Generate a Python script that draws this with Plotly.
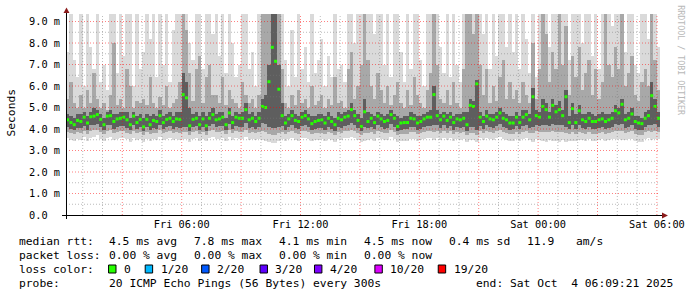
import pandas as pd
import plotly.graph_objects as go

# ---------------- data (10-minute resolution, milliseconds) ----------------
START = "2025-10-03 00:09:21"
END = "2025-10-04 06:09:21"
STEP_MIN = 10

median_a = [4.43,4.30,4.20,4.40,4.35,4.55,4.28,4.57,4.60,4.67,4.45,4.20,4.60,4.62,4.35,4.47,4.50,4.55,4.43,4.20,4.60,4.30,4.45,4.10,4.45,4.20,4.40,4.35,4.62,4.30,4.45,4.50,4.35,4.47,4.45,5.60,5.45,4.15,4.45,4.50,4.20,4.47,4.15,4.50,4.67]
median_b = [4.43,4.47,4.55,4.20,4.75,4.30,4.55,4.50,4.50,4.90,4.43,4.50,4.35,4.50,5.05,5.00,6.20,7.80,7.15,5.85,4.62,4.28,4.47,4.62,4.40,4.35,4.55,4.62,4.47,4.25,4.35,4.40,4.43,4.28,4.50,4.35,4.20,4.50,4.43,4.55,4.60,4.90,4.62,4.40,4.12]
median_c = [4.80,4.35,4.50,4.30,4.60,4.47,4.35,4.40,4.67,4.50,4.12,4.28,4.30,4.30,4.50,4.47,4.28,4.35,4.47,4.55,4.55,5.60,4.62,4.43,4.60,4.40,4.55,4.30,4.47,4.43,4.50,4.20,5.10,5.05,6.10,4.55,4.35,4.60,4.47,4.43,4.55,4.75,4.50,4.43,4.28]
median_d = [4.28,4.55,4.30,4.55,4.67,4.43,5.50,4.62,4.55,5.05,4.90,4.55,5.10,4.80,4.90,4.62,5.50,4.30,4.95,4.30,4.85,4.43,4.35,4.50,4.35,4.35,4.43,4.47,4.35,4.43,4.50,4.85,4.75,5.15,4.43,4.50,4.70,4.35,4.28,4.25,4.50,4.62,5.55,5.05,4.50]

# outer smoke (lightest) top
hi1_a = [7.6,9.4,7.2,6.4,9.4,6.0,9.4,7.8,6.8,9.4,6.2,7.0,5.8,9.4,9.4,6.6,9.4,7.4,9.4,9.4,6.0,9.4,6.8,7.6,9.4,8.2,9.4,6.4,9.4,7.0,9.4,6.2,8.6,9.4,9.4,9.4,9.4,8.0,7.2,9.4,9.4,6.8,9.4,9.4,8.4]
hi1_b = [9.4,7.4,9.4,6.6,9.4,8.0,6.4,7.0,9.4,9.4,6.8,7.6,6.0,9.4,9.4,9.4,9.4,9.4,9.4,9.4,9.4,7.2,6.0,8.6,6.4,9.4,6.8,7.8,6.2,9.4,6.6,7.2,8.2,6.0,7.4,6.4,9.4,6.8,7.0,6.2,9.4,9.4,8.0,9.4,9.4]
hi1_c = [9.4,9.4,9.4,8.4,9.4,9.4,7.0,9.4,6.4,9.4,9.4,7.6,6.2,9.4,6.8,9.4,9.4,7.2,6.0,9.4,9.4,9.4,9.4,7.8,6.6,9.4,6.4,9.4,7.0,6.2,9.4,9.4,9.4,9.4,9.4,9.4,8.4,9.4,6.8,9.4,7.4,9.4,9.4,7.8,9.4]
hi1_d = [7.6,9.4,6.8,9.4,8.2,6.6,9.4,6.4,9.4,9.4,9.4,7.8,9.4,9.4,9.4,9.4,9.4,7.2,9.4,9.4,9.4,8.0,9.4,9.4,7.4,9.4,6.8,9.4,9.4,9.4,8.8,9.4,9.4,9.4,7.6,9.4,9.4,7.0,6.6,9.4,9.4,8.2,9.4,9.4,7.8]

# middle smoke top
hi2_a = [5.4,6.2,5.2,5.0,5.6,5.0,5.8,5.2,6.6,5.4,5.0,5.2,4.9,5.6,8.0,5.1,5.4,5.0,6.8,6.0,5.0,5.3,5.2,5.4,5.1,6.4,5.2,5.0,5.5,5.1,6.0,5.0,5.2,5.4,6.2,9.4,8.6,6.6,5.3,6.8,7.4,5.2,6.4,7.0,5.6]
hi2_b = [5.6,5.2,6.4,5.1,5.8,5.4,5.2,5.0,6.2,5.6,5.2,5.4,5.0,5.6,9.4,9.4,9.4,9.4,9.4,9.4,6.8,5.2,5.0,5.6,5.1,5.8,5.2,5.4,5.0,6.0,5.1,5.3,5.6,5.0,5.4,5.1,6.4,5.2,5.3,5.0,6.8,7.6,5.4,6.0,7.0]
hi2_c = [9.4,7.2,6.0,5.4,6.6,5.8,5.2,6.0,5.1,5.6,6.2,5.2,5.0,5.8,5.1,6.4,5.6,5.2,5.0,5.8,6.6,9.4,7.0,5.4,5.2,5.8,5.1,6.2,5.2,5.0,6.8,9.4,9.4,8.4,9.4,7.0,5.6,6.8,5.2,6.0,5.3,6.4,7.2,5.4,6.2]
hi2_d = [5.4,5.8,5.2,6.2,5.6,5.2,8.0,5.4,6.8,9.4,8.4,6.2,7.6,6.8,9.4,7.0,8.8,5.6,7.4,6.4,7.8,5.8,6.6,7.2,5.6,6.8,5.4,6.2,9.4,7.0,6.4,7.8,6.8,9.4,6.0,6.6,7.4,5.6,5.3,6.2,6.8,6.0,9.4,7.2,5.8]

# dark core top
hi3_a = [4.7,4.6,4.5,4.7,4.7,4.8,4.6,4.8,5.0,4.9,4.7,4.5,4.8,4.9,4.7,4.7,4.8,4.8,4.8,4.5,4.8,4.6,4.7,4.5,4.7,4.6,4.7,4.6,4.9,4.6,4.7,4.8,4.6,4.8,4.8,6.6,6.2,5.0,4.7,4.8,4.6,4.8,4.6,4.8,5.0]
hi3_b = [4.7,4.8,4.8,4.5,5.0,4.6,4.8,4.7,4.8,5.2,4.7,4.8,4.6,4.8,5.4,5.6,7.0,9.4,9.4,7.0,5.2,4.6,4.7,4.9,4.7,4.6,4.8,4.9,4.7,4.6,4.6,4.7,4.7,4.6,4.8,4.6,4.5,4.8,4.7,4.8,4.9,5.2,4.9,4.7,4.5]
hi3_c = [5.4,4.8,4.7,4.6,4.8,4.7,4.6,4.7,4.9,4.7,4.6,4.5,4.6,4.6,4.8,4.7,4.6,4.6,4.7,4.8,4.9,6.0,4.9,4.7,4.8,4.7,4.8,4.6,4.7,4.7,4.8,4.8,5.4,5.3,6.3,4.8,4.6,4.9,4.7,4.7,4.8,5.0,4.8,4.7,4.6]
hi3_d = [4.6,4.8,4.6,4.9,4.9,4.7,5.9,4.9,4.8,5.4,5.2,4.8,5.4,5.1,5.3,4.9,5.8,4.6,5.2,4.7,5.1,4.7,4.7,4.8,4.7,4.6,4.7,4.8,4.7,4.7,4.8,5.1,5.0,5.4,4.7,4.8,5.0,4.6,4.6,4.5,4.8,4.9,6.2,5.4,4.8]

# bottoms of each smoke layer
lo1_a = [3.60,3.50,3.45,3.55,3.50,3.65,3.45,3.60,3.65,3.70,3.55,3.45,3.60,3.65,3.50,3.55,3.60,3.60,3.55,3.40,3.60,3.50,3.55,3.40,3.55,3.45,3.55,3.50,3.65,3.50,3.55,3.60,3.50,3.55,3.50,3.55,3.55,3.40,3.55,3.60,3.45,3.55,3.45,3.60,3.65]
lo1_b = [3.55,3.55,3.60,3.45,3.65,3.50,3.60,3.55,3.55,3.65,3.50,3.55,3.50,3.55,3.50,3.45,3.40,3.35,3.35,3.45,3.55,3.45,3.55,3.60,3.50,3.45,3.60,3.60,3.55,3.45,3.50,3.50,3.55,3.45,3.55,3.50,3.40,3.55,3.50,3.60,3.60,3.65,3.60,3.50,3.40]
lo1_c = [3.45,3.50,3.55,3.45,3.60,3.55,3.50,3.50,3.65,3.55,3.40,3.45,3.45,3.45,3.55,3.55,3.45,3.50,3.55,3.60,3.60,3.50,3.60,3.50,3.60,3.50,3.60,3.45,3.55,3.50,3.55,3.40,3.50,3.50,3.40,3.60,3.50,3.60,3.55,3.50,3.60,3.65,3.55,3.50,3.45]
lo1_d = [3.45,3.55,3.45,3.55,3.60,3.50,3.40,3.55,3.50,3.45,3.40,3.50,3.45,3.45,3.40,3.50,3.40,3.45,3.45,3.45,3.50,3.50,3.45,3.55,3.45,3.45,3.50,3.55,3.45,3.50,3.55,3.55,3.55,3.50,3.50,3.55,3.55,3.45,3.40,3.40,3.55,3.60,3.50,3.55,3.55]

lo2_a = [3.85,3.80,3.75,3.85,3.80,3.90,3.75,3.90,3.95,3.95,3.85,3.75,3.90,3.95,3.80,3.85,3.90,3.90,3.80,3.75,3.90,3.80,3.85,3.70,3.85,3.75,3.80,3.80,3.95,3.80,3.85,3.90,3.80,3.85,3.80,3.85,3.85,3.70,3.85,3.90,3.75,3.85,3.70,3.90,3.95]
lo2_b = [3.85,3.85,3.90,3.75,3.95,3.80,3.90,3.85,3.85,3.95,3.80,3.85,3.80,3.85,3.90,3.85,3.75,3.70,3.70,3.80,3.85,3.75,3.85,3.90,3.80,3.75,3.90,3.90,3.85,3.75,3.80,3.80,3.80,3.75,3.85,3.80,3.70,3.85,3.80,3.90,3.90,3.95,3.90,3.80,3.70]
lo2_c = [3.80,3.80,3.85,3.75,3.90,3.85,3.80,3.80,3.95,3.85,3.70,3.75,3.75,3.75,3.85,3.85,3.75,3.80,3.85,3.90,3.90,3.85,3.90,3.80,3.90,3.80,3.90,3.75,3.85,3.80,3.85,3.70,3.80,3.80,3.70,3.90,3.80,3.90,3.85,3.80,3.90,3.95,3.85,3.80,3.75]
lo2_d = [3.75,3.85,3.75,3.85,3.90,3.80,3.80,3.90,3.85,3.85,3.85,3.85,3.90,3.85,3.85,3.85,3.80,3.75,3.85,3.75,3.85,3.80,3.75,3.85,3.75,3.75,3.80,3.85,3.75,3.80,3.85,3.90,3.90,3.90,3.80,3.85,3.90,3.75,3.70,3.70,3.85,3.90,3.85,3.90,3.85]

lo3_a = [4.10,4.00,3.95,4.05,4.05,4.15,3.95,4.20,4.20,4.25,4.10,3.95,4.20,4.20,4.00,4.10,4.15,4.15,4.05,3.95,4.20,4.00,4.10,3.90,4.10,3.95,4.05,4.00,4.20,4.00,4.10,4.15,4.00,4.10,4.05,4.10,4.10,3.90,4.10,4.15,3.95,4.10,3.90,4.15,4.25]
lo3_b = [4.10,4.15,4.15,3.95,4.25,4.00,4.15,4.10,4.10,4.30,4.05,4.10,4.00,4.10,4.30,4.25,4.10,4.05,4.05,4.10,4.15,3.95,4.10,4.20,4.05,4.00,4.15,4.20,4.10,3.95,4.00,4.05,4.05,3.95,4.10,4.00,3.90,4.10,4.05,4.15,4.20,4.30,4.20,4.05,3.90]
lo3_c = [4.10,4.05,4.10,4.00,4.20,4.10,4.00,4.05,4.25,4.10,3.90,3.95,4.00,4.00,4.10,4.10,3.95,4.00,4.10,4.15,4.15,4.20,4.20,4.05,4.20,4.05,4.15,3.95,4.10,4.05,4.10,3.90,4.10,4.10,3.95,4.15,4.00,4.20,4.10,4.05,4.15,4.25,4.10,4.05,3.95]
lo3_d = [4.00,4.15,4.00,4.15,4.20,4.05,4.10,4.20,4.15,4.20,4.20,4.15,4.25,4.20,4.20,4.20,4.10,4.00,4.20,4.00,4.20,4.05,4.00,4.10,4.00,4.00,4.05,4.10,4.00,4.05,4.10,4.25,4.20,4.25,4.05,4.10,4.20,4.00,3.95,3.95,4.10,4.20,4.20,4.25,4.10]

y_tick_vals = [0, 1, 2, 3, 4, 5, 6, 7, 8, 9]
y_tick_text = ["0.0\u00a0\u00a0", "1.0 m", "2.0 m", "3.0 m", "4.0 m", "5.0 m", "6.0 m", "7.0 m", "8.0 m", "9.0 m"]
x_tick_vals = ["2025-10-03 06:00", "2025-10-03 12:00", "2025-10-03 18:00", "2025-10-04 00:00", "2025-10-04 06:00"]
x_tick_text = ["Fri 06:00", "Fri 12:00", "Fri 18:00", "Sat 00:00", "Sat 06:00"]

loss_labels = ["0", "1/20", "2/20", "3/20", "4/20", "10/20", "19/20"]
loss_colors = ["#26ff00", "#00b8ff", "#0059ff", "#5e00ff", "#7e00ff", "#dd00ff", "#ff0000"]

rtt_row = ["4.5 ms avg", "7.8 ms max", "4.1 ms min", "4.5 ms now", "0.4 ms sd", "11.9", "am/s"]
loss_row = ["0.00 % avg", "0.00 % max", "0.00 % min", "0.00 % now"]

# ---------------- assemble ----------------
median = median_a + median_b + median_c + median_d
hi1 = hi1_a + hi1_b + hi1_c + hi1_d
hi2 = hi2_a + hi2_b + hi2_c + hi2_d
hi3 = hi3_a + hi3_b + hi3_c + hi3_d
lo1 = lo1_a + lo1_b + lo1_c + lo1_d
lo2 = lo2_a + lo2_b + lo2_c + lo2_d
lo3 = lo3_a + lo3_b + lo3_c + lo3_d
n = len(median)
t0 = pd.Timestamp(START)
times = [t0 + pd.Timedelta(minutes=STEP_MIN * i + STEP_MIN / 2) for i in range(n)]
bar_w = STEP_MIN * 60 * 1000

MONO = "DejaVu Sans Mono"
fig = go.Figure()
for lo, hi, col in [(lo1, hi1, "#dadada"), (lo2, hi2, "#a8a8a8"), (lo3, hi3, "#5e5e5e")]:
    fig.add_trace(go.Bar(x=times, base=lo, y=[h - l for h, l in zip(hi, lo)], width=bar_w,
                         marker=dict(color=col, line=dict(width=0)), hoverinfo="skip"))
fig.add_trace(go.Scatter(x=times, y=median, mode="markers",
                         marker=dict(symbol="square", size=3, color=loss_colors[0], line=dict(width=0)),
                         hoverinfo="skip"))

# pixel geometry
L, R, T, B = 66, 666, 14, 215
W, H = R - L, B - T
def px(x):
    return (x - L) / W
def py(y):
    return (B - y) / H

MAJOR = "rgba(255,0,0,0.5)"
MINOR = "rgba(120,120,120,0.5)"
shapes = []
# grid (drawn over the smoke like rrdtool)
start_ts, end_ts = pd.Timestamp(START), pd.Timestamp(END)
hour = start_ts.ceil("h")
while hour <= end_ts:
    major = hour.hour % 3 == 0
    shapes.append(dict(type="line", xref="x", yref="paper", x0=hour, x1=hour, y0=0, y1=1, layer="above",
                       line=dict(color=MAJOR if major else MINOR, width=1, dash="1px,2px")))
    hour += pd.Timedelta(hours=1)
for k in range(1, 19):
    v = k * 0.5
    major = k % 2 == 0
    shapes.append(dict(type="line", xref="paper", yref="y", x0=0, x1=1, y0=v, y1=v, layer="above",
                       line=dict(color=MAJOR if major else MINOR, width=1, dash="1px,2px")))
# axes + arrows
shapes.append(dict(type="line", xref="paper", yref="paper", x0=px(62), x1=px(670), y0=py(215.5), y1=py(215.5),
                   layer="above", line=dict(color="#000000", width=1)))
shapes.append(dict(type="line", xref="paper", yref="paper", x0=px(66.5), x1=px(66.5), y0=py(219), y1=py(11),
                   layer="above", line=dict(color="#000000", width=1)))
shapes.append(dict(type="path", xref="paper", yref="paper", layer="above",
                   path=f"M {px(63.5)} {py(13)} L {px(69.5)} {py(13)} L {px(66.5)} {py(7.5)} Z",
                   fillcolor="#8b1a1a", line=dict(width=0)))
shapes.append(dict(type="path", xref="paper", yref="paper", layer="above",
                   path=f"M {px(668)} {py(212.5)} L {px(668)} {py(218.5)} L {px(674)} {py(215.5)} Z",
                   fillcolor="#8b1a1a", line=dict(width=0)))

annotations = []
def text(x, y, s, size=11.3, color="#000000", angle=0, xanchor="left"):
    annotations.append(dict(text=s, x=px(x), y=py(y), xref="paper", yref="paper", showarrow=False,
                            xanchor=xanchor, yanchor="middle", textangle=angle,
                            font=dict(family=MONO, size=size, color=color)))

text(10, 113, "Seconds", angle=-90, xanchor="center")
text(687, 60, "RRDTOOL / TOBI OETIKER", size=8.3, color="#b8b8b8", angle=90, xanchor="center")

row_y = [241.5, 255.2, 269.2, 283]
text(16, row_y[0], "median rtt:")
for xx, s in zip([107, 193, 279, 365, 451, 530, 579], rtt_row):
    text(xx, row_y[0], s)
text(16, row_y[1], "packet loss:")
for xx, s in zip([107, 193, 279, 365], loss_row):
    text(xx, row_y[1], s)
text(16, row_y[2], "loss color:")
for xx, s, c in zip([109, 146, 203, 262, 317, 378, 442], loss_labels, loss_colors):
    shapes.append(dict(type="rect", xref="paper", yref="paper", x0=px(xx), x1=px(xx + 7.5),
                       y0=py(273), y1=py(265), fillcolor=c, line=dict(color="#000000", width=1)))
    text(xx + 13.5, row_y[2], s)
text(16, row_y[3], "probe:")
text(107, row_y[3], "20 ICMP Echo Pings (56 Bytes) every 300s")
text(478, row_y[3], "end: Sat Oct \u00a04 06:09:21 2025")

fig.update_layout(
    width=697, height=297,
    margin=dict(l=L, r=697 - R, t=T, b=297 - B, pad=0),
    paper_bgcolor="#ffffff", plot_bgcolor="#ffffff",
    barmode="overlay", bargap=0, showlegend=False,
    shapes=shapes, annotations=annotations,
    font=dict(family=MONO, color="#000000"),
    xaxis=dict(type="date", range=[START, END], tickvals=x_tick_vals, ticktext=x_tick_text,
               showgrid=False, zeroline=False, showline=False, ticks="",
               tickfont=dict(family=MONO, size=10.3, color="#000000"), ticklabelstandoff=2,
               fixedrange=True),
    yaxis=dict(range=[0, 9.35], tickvals=y_tick_vals, ticktext=y_tick_text,
               showgrid=False, zeroline=False, showline=False, ticks="",
               tickfont=dict(family=MONO, size=10.3, color="#000000"), ticklabelstandoff=5,
               fixedrange=True),
)
fig.write_html("out.html")
